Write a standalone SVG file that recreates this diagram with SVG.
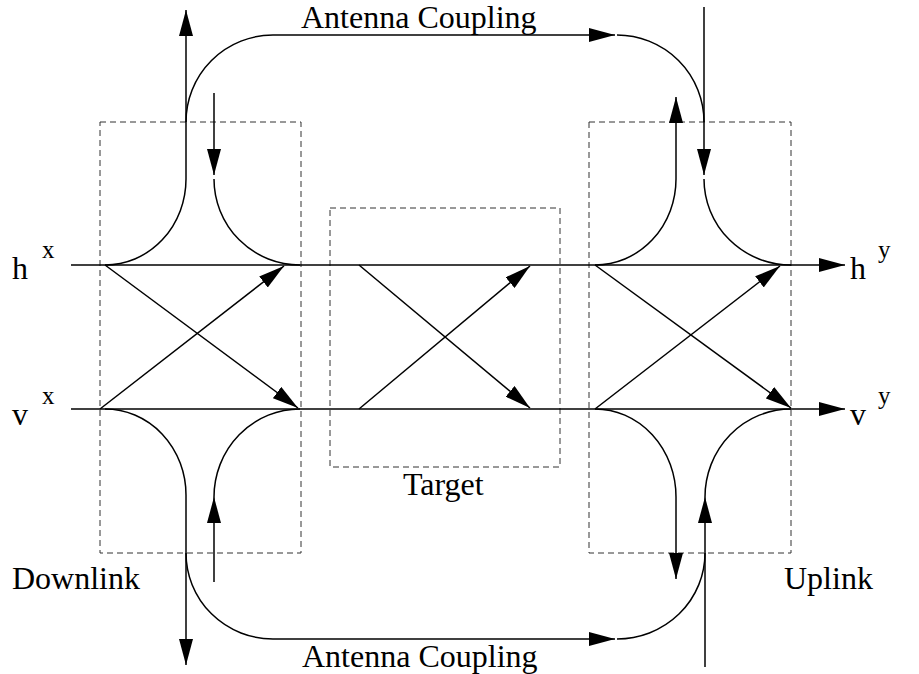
<svg xmlns="http://www.w3.org/2000/svg" width="919" height="674" viewBox="0 0 919 674">
  <style>
    .ln { fill: none; stroke: #000; stroke-width: 1.5; }
    .box { fill: none; stroke: #333; stroke-width: 1; stroke-dasharray: 6 4; }
    text { font-family: 'Liberation Serif', 'Times New Roman', 'DejaVu Serif', serif; fill: #000; }
    .lbl { font-size: 32px; }
    .sup { font-size: 25px; }
  </style>
  <defs>
    <marker id="ah" markerUnits="userSpaceOnUse" markerWidth="26" markerHeight="14" refX="26" refY="7" orient="auto">
      <path d="M0,0 L26,7 L0,14 z" fill="#000"/>
    </marker>
  </defs>
  <rect width="919" height="674" fill="#fff"/>

  <!-- stages -->
  <g id="downlink">
    <rect class="box" x="100" y="122" width="201" height="431"/>
    <text class="lbl" x="12" y="589">Downlink</text>
  </g>
  <g id="target">
    <rect class="box" x="330" y="208" width="230" height="259"/>
    <text class="lbl" x="403" y="495">Target</text>
  </g>
  <g id="uplink">
    <rect class="box" x="589" y="122" width="202" height="431"/>
    <text class="lbl" x="784" y="589">Uplink</text>
  </g>

  <!-- port labels -->
  <g id="hx"><text class="lbl" x="12" y="279">h</text><text class="sup" x="42" y="258">x</text></g>
  <g id="vx"><text class="lbl" x="12" y="425">v</text><text class="sup" x="42" y="404">x</text></g>
  <g id="hy"><text class="lbl" x="850" y="279">h</text><text class="sup" x="878" y="258">y</text></g>
  <g id="vy"><text class="lbl" x="850" y="425">v</text><text class="sup" x="878" y="404">y</text></g>

  <g id="connectors">
    <!-- polarisation channels -->
    <line class="ln" x1="71" y1="265" x2="845" y2="265" marker-end="url(#ah)"/>
    <line class="ln" x1="71" y1="409" x2="845" y2="409" marker-end="url(#ah)"/>

    <!-- cross-polar coupling -->
    <line class="ln" x1="105" y1="265" x2="298" y2="408" marker-end="url(#ah)"/>
    <line class="ln" x1="100" y1="409" x2="284" y2="266" marker-end="url(#ah)"/>
    <line class="ln" x1="359" y1="265" x2="530" y2="408" marker-end="url(#ah)"/>
    <line class="ln" x1="359" y1="409" x2="530" y2="266" marker-end="url(#ah)"/>
    <line class="ln" x1="595" y1="265" x2="791" y2="408" marker-end="url(#ah)"/>
    <line class="ln" x1="595" y1="409" x2="780" y2="266" marker-end="url(#ah)"/>

    <!-- downlink upper branch -->
    <line class="ln" x1="186" y1="179" x2="186" y2="10" marker-end="url(#ah)"/>
    <path class="ln" d="M186,179 A81,86 0 0 1 105,265"/>
    <line class="ln" x1="214" y1="93" x2="214" y2="175" marker-end="url(#ah)"/>
    <path class="ln" d="M214,179 A86,86 0 0 0 300,265"/>

    <!-- downlink lower branch -->
    <path class="ln" d="M105,409 A81,86 0 0 1 186,495"/>
    <line class="ln" x1="186" y1="495" x2="186" y2="665" marker-end="url(#ah)"/>
    <line class="ln" x1="214" y1="582" x2="214" y2="497" marker-end="url(#ah)"/>
    <path class="ln" d="M214,497 A86,88 0 0 1 300,409"/>

    <!-- uplink upper branch -->
    <line class="ln" x1="676" y1="179" x2="676" y2="97" marker-end="url(#ah)"/>
    <path class="ln" d="M676,179 A81,86 0 0 1 595,265"/>
    <line class="ln" x1="704" y1="7" x2="704" y2="175" marker-end="url(#ah)"/>
    <path class="ln" d="M704,179 A87,86 0 0 0 791,265"/>

    <!-- uplink lower branch -->
    <path class="ln" d="M595,409 A81,88 0 0 1 676,497"/>
    <line class="ln" x1="676" y1="497" x2="676" y2="579" marker-end="url(#ah)"/>
    <line class="ln" x1="705" y1="667" x2="705" y2="497" marker-end="url(#ah)"/>
    <path class="ln" d="M705,497 A86,88 0 0 1 791,409"/>

    <!-- antenna coupling, top -->
    <path class="ln" d="M186,122 A87,87 0 0 1 273,35"/>
    <line class="ln" x1="273" y1="35" x2="615" y2="35" marker-end="url(#ah)"/>
    <path class="ln" d="M617,35 A87,87 0 0 1 704,122"/>
    <text class="lbl" x="301" y="28" font-size="31">Antenna Coupling</text>

    <!-- antenna coupling, bottom -->
    <path class="ln" d="M186,553 A87,86 0 0 0 273,639"/>
    <line class="ln" x1="273" y1="639" x2="615" y2="639" marker-end="url(#ah)"/>
    <path class="ln" d="M617,639 A88,86 0 0 0 705,553"/>
    <text class="lbl" x="302" y="667">Antenna Coupling</text>
  </g>
</svg>
